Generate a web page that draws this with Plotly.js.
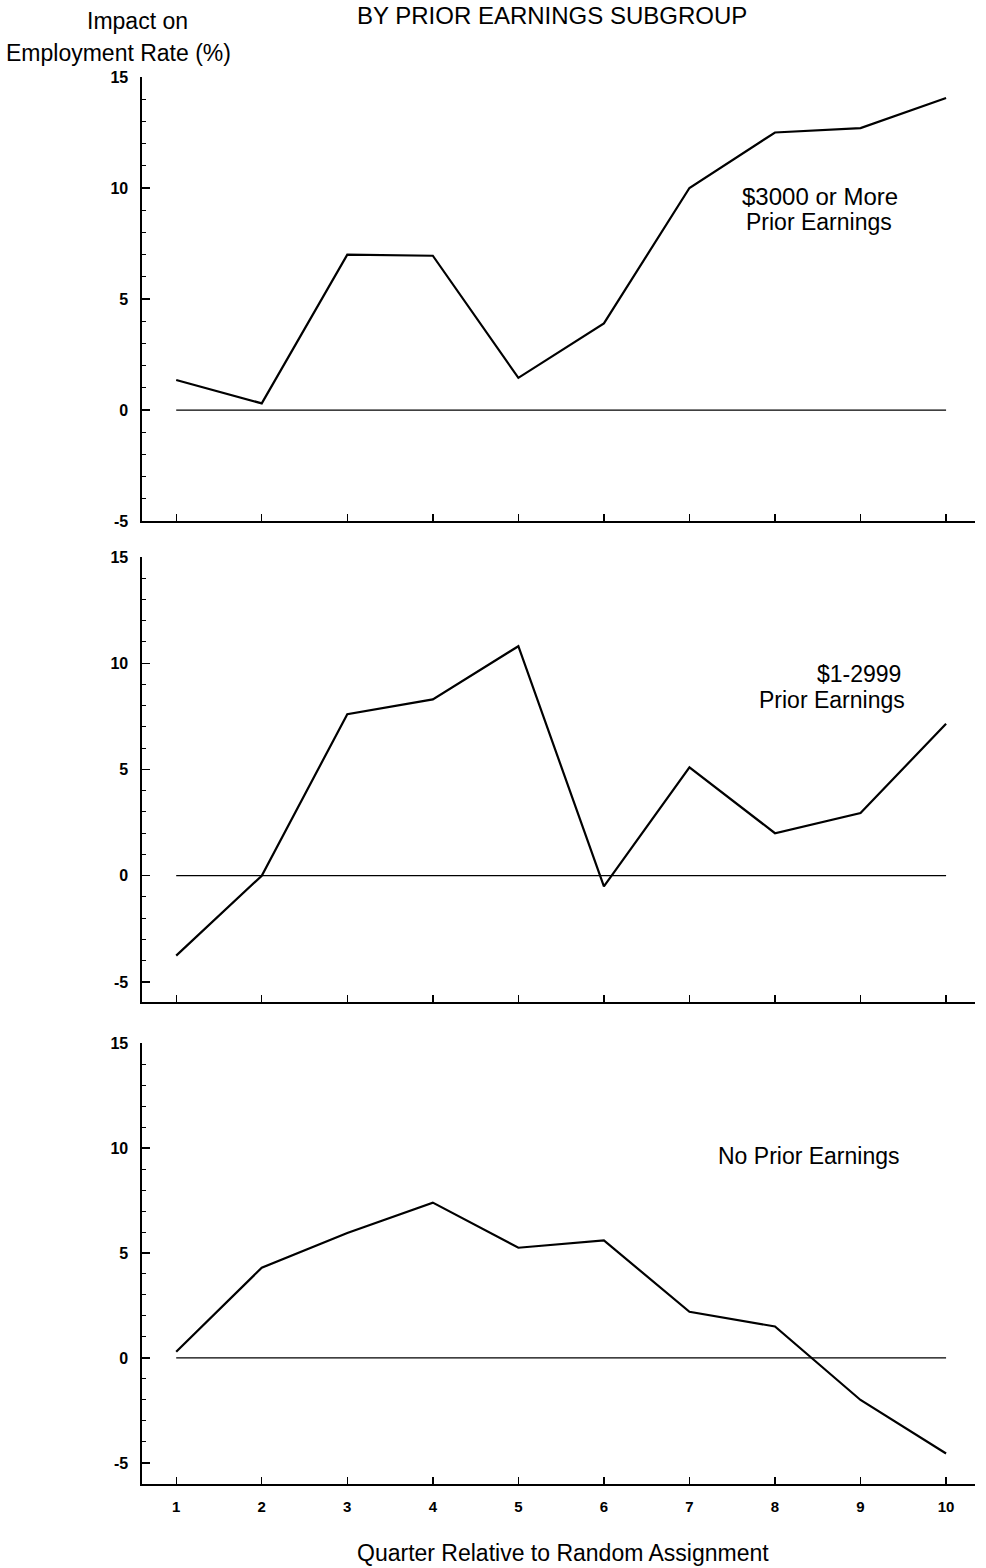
<!DOCTYPE html>
<html>
<head>
<meta charset="utf-8">
<script src="https://cdn.plot.ly/plotly-3.0.1.min.js"></script>
<style>html,body{margin:0;padding:0;background:#fff;}#chart{width:986px;height:1568px;}</style>
</head>
<body>
<div id="chart"></div>
<script>
const quarters = [1, 2, 3, 4, 5, 6, 7, 8, 9, 10];
const high = [1.35, 0.3, 7.0, 6.95, 1.45, 3.9, 10.0, 12.5, 12.7, 14.05];
const mid = [-3.76, 0.0, 7.6, 8.3, 10.8, -0.5, 5.1, 2.0, 2.95, 7.15];
const none = [0.3, 4.3, 5.95, 7.4, 5.25, 5.6, 2.2, 1.5, -2.0, -4.55];
const zeroX = [1, 10];
const zeroY = [0, 0];
const yTicks = [-5, 0, 5, 10, 15];
const xTicks = [1, 2, 3, 4, 5, 6, 7, 8, 9, 10];

const F = 'Liberation Sans, Arial, Helvetica, sans-serif';
const lineStyle = {color: '#000', width: 2.2};
const zeroStyle = {color: '#000', width: 1.3};

const traces = [
  {x: zeroX, y: zeroY, xaxis: 'x', yaxis: 'y', mode: 'lines', line: zeroStyle, hoverinfo: 'skip'},
  {x: quarters, y: high, xaxis: 'x', yaxis: 'y', mode: 'lines', line: lineStyle},
  {x: zeroX, y: zeroY, xaxis: 'x2', yaxis: 'y2', mode: 'lines', line: zeroStyle, hoverinfo: 'skip'},
  {x: quarters, y: mid, xaxis: 'x2', yaxis: 'y2', mode: 'lines', line: lineStyle},
  {x: zeroX, y: zeroY, xaxis: 'x3', yaxis: 'y3', mode: 'lines', line: zeroStyle, hoverinfo: 'skip'},
  {x: quarters, y: none, xaxis: 'x3', yaxis: 'y3', mode: 'lines', line: lineStyle}
];

function xax(anchor, labels) {
  return {
    domain: [0.144, 0.989], range: [0.6, 10.34], anchor: anchor,
    showgrid: false, zeroline: false, showline: true, linecolor: '#000', linewidth: 1.6,
    tickmode: 'array', tickvals: xTicks, ticktext: xTicks.map(String),
    ticks: 'inside', ticklen: 7, tickwidth: 1.4, tickcolor: '#000',
    showticklabels: labels, ticklabelstandoff: 8,
    tickfont: {family: F, size: 15, color: '#000', weight: 'bold'}
  };
}
function yax(anchor, domain, range) {
  return {
    domain: domain, range: range, anchor: anchor,
    showgrid: false, zeroline: false, showline: true, linecolor: '#000', linewidth: 1.6,
    tickmode: 'array', tickvals: yTicks, ticktext: yTicks.map(String),
    ticks: 'inside', ticklen: 8, tickwidth: 1.4, tickcolor: '#000',
    ticklabelstandoff: 9,
    minor: {dtick: 1, tick0: 0, ticks: 'inside', ticklen: 4, tickwidth: 1, tickcolor: '#000'},
    tickfont: {family: F, size: 16, color: '#000', weight: 'bold'}
  };
}

const ann = (text, px, py, xanchor, size) => ({
  text: text, xref: 'paper', yref: 'paper', x: px / 986, y: 1 - py / 1568,
  xanchor: xanchor, yanchor: 'middle', showarrow: false,
  font: {family: F, size: size, color: '#000'}
});

const layout = {
  width: 986, height: 1568,
  margin: {l: 0, r: 0, t: 0, b: 0},
  paper_bgcolor: '#fff', plot_bgcolor: '#fff',
  showlegend: false,
  font: {family: F, color: '#000'},
  xaxis: xax('y', false),
  xaxis2: xax('y2', false),
  xaxis3: xax('y3', true),
  yaxis: yax('x', [0.6677, 0.9509], [-5, 15]),
  yaxis2: yax('x2', [0.361, 0.6448], [-5.94, 15]),
  yaxis3: yax('x3', [0.0536, 0.3348], [-6, 15]),
  annotations: [
    Object.assign(ann('BY PRIOR EARNINGS SUBGROUP', 552, 0, 'center', 24), {y: 1, yanchor: 'top', yshift: 0}),
    ann('Impact on', 137, 21, 'center', 23),
    ann('Employment Rate (%)', 118, 53, 'center', 23),
    ann('$3000 or More', 740, 196, 'left', 24),
    ann('Prior Earnings', 744, 222, 'left', 23),
    ann('$1-2999', 903, 674, 'right', 23),
    ann('Prior Earnings', 907, 700, 'right', 23),
    ann('No Prior Earnings', 716, 1156, 'left', 23),
    ann('Quarter Relative to Random Assignment', 563, 1553, 'center', 23)
  ]
};

Plotly.newPlot('chart', traces, layout, {displayModeBar: false, staticPlot: true});
</script>
</body>
</html>
